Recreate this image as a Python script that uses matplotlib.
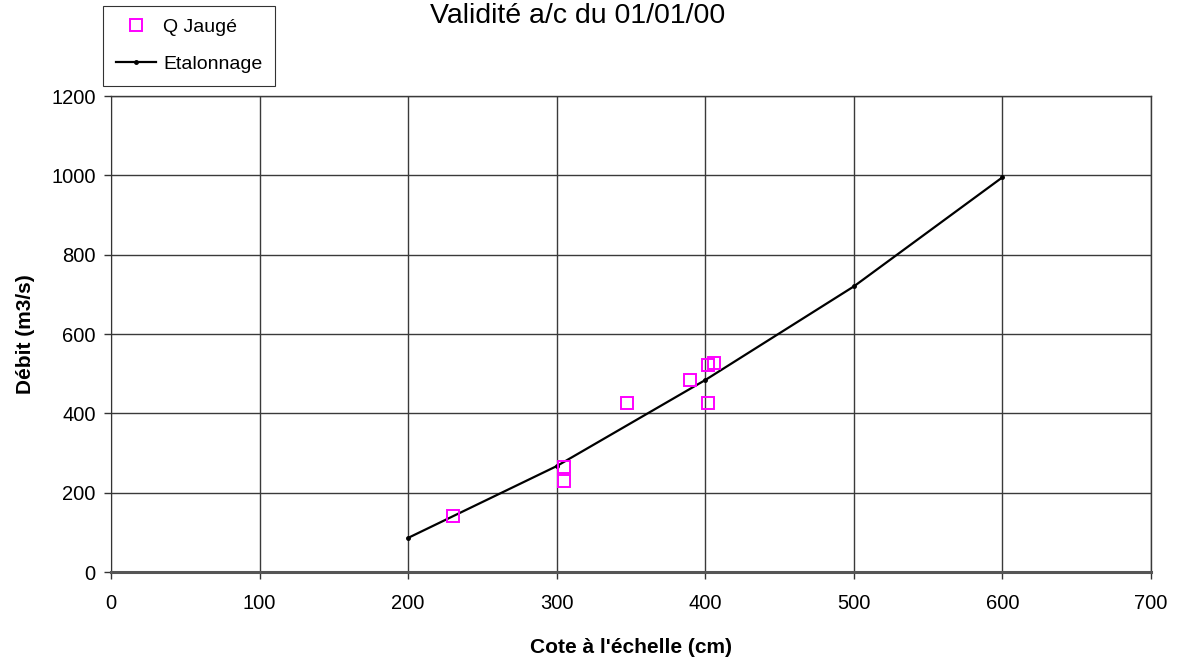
import matplotlib
matplotlib.use("Agg")
import matplotlib.pyplot as plt

plt.rcParams["font.family"] = ["Liberation Sans", "DejaVu Sans"]

# Etalonnage (courbe de tarage)
cote_etal = [200, 300, 400, 500, 600]
debit_etal = [86, 267, 484, 720, 995]

# Jaugeages
cote_jauge = [230, 305, 305, 347, 390, 402, 406, 402]
debit_jauge = [141, 264, 229, 425, 485, 521, 526, 425]

fig = plt.figure(figsize=(11.84, 6.64), dpi=100)
ax = fig.add_axes([111 / 1184, 1 - 572 / 664, 1040 / 1184, 476 / 664])

ax.plot(cote_jauge, debit_jauge, linestyle="none", marker="s", markersize=9,
        markerfacecolor="none", markeredgecolor="#ff00ff", markeredgewidth=1.4,
        label="Q Jaugé", zorder=4)
ax.plot(cote_etal, debit_etal, color="black", linewidth=1.6, marker="o",
        markersize=2.5, label="Etalonnage", zorder=3)

ax.set_xlim(0, 700)
ax.set_ylim(0, 1200)
ax.set_xticks(range(0, 701, 100))
ax.set_yticks(range(0, 1201, 200))
ax.grid(True, color="#3a3a3a", linewidth=1.0)
ax.set_axisbelow(True)
for side in ["top", "right"]:
    ax.spines[side].set_color("#3a3a3a")
    ax.spines[side].set_linewidth(1.0)
ax.spines["left"].set_color("#333333")
ax.spines["bottom"].set_color("#555555")
ax.spines["bottom"].set_linewidth(2.2)
ax.tick_params(direction="out", length=5, width=1, color="#333333",
               labelsize=14.5)
ax.tick_params(axis="x", pad=11)
ax.tick_params(axis="y", pad=6)

ax.set_xlabel("Cote à l'échelle (cm)", fontsize=15, fontweight="bold", labelpad=18)
ax.set_ylabel("Débit (m3/s)", fontsize=15, fontweight="bold", labelpad=12)

fig.text(578 / 1184, 1 - 23 / 664, "Validité a/c du 01/01/00", fontsize=20.5,
         ha="center", va="baseline")

leg = fig.legend(loc="upper left", bbox_to_anchor=(103 / 1184, 1 - 6 / 664),
                 fontsize=14, frameon=True, fancybox=False, edgecolor="black",
                 borderpad=0.65, handlelength=2.1, handletextpad=0.35,
                 labelspacing=1.0, borderaxespad=0)
leg.get_frame().set_linewidth(0.8)

fig.savefig("out.png", dpi=100)
